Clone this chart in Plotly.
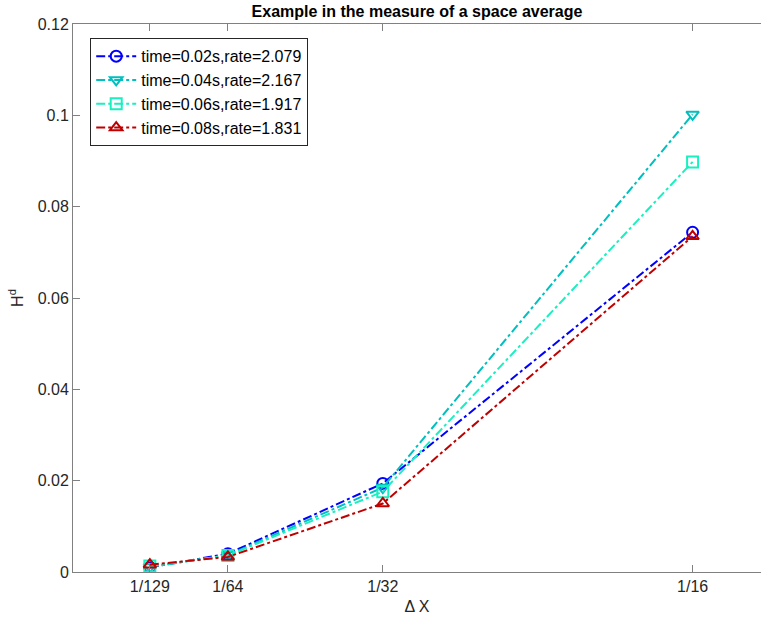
import plotly.graph_objects as go

x_vals = [1/129, 1/64, 1/32, 1/16]
x_labels = ["1/129", "1/64", "1/32", "1/16"]

series_names = ["time=0.02s,rate=2.079", "time=0.04s,rate=2.167",
                "time=0.06s,rate=1.917", "time=0.08s,rate=1.831"]
s1 = [0.0010, 0.0040, 0.0194, 0.0744]
s2 = [0.0011, 0.0037, 0.0185, 0.1002]
s3 = [0.0013, 0.0036, 0.0176, 0.0898]
s4 = [0.0016, 0.0033, 0.0150, 0.0735]
series = [s1, s2, s3, s4]
colors = ["#0000ff", "#00bfbf", "#19f0c0", "#bf0000"]
symbols = ["circle-open", "triangle-down-open", "square-open", "triangle-up-open"]

y_ticks = [0, 0.02, 0.04, 0.06, 0.08, 0.1, 0.12]
y_labels = ["0", "0.02", "0.04", "0.06", "0.08", "0.1", "0.12"]

fig = go.Figure()
for name, ys, c, s in zip(series_names, series, colors, symbols):
    fig.add_trace(go.Scatter(
        x=x_vals, y=ys, name=name, mode="lines+markers",
        line=dict(color=c, width=2, dash="dashdot"),
        marker=dict(symbol=s, size=11, color=c, line=dict(color=c, width=2)),
    ))

axis_col = "#808080"
fig.update_layout(
    width=761, height=622,
    margin=dict(l=73, r=0, t=24, b=50),
    paper_bgcolor="white", plot_bgcolor="white",
    font=dict(family="Liberation Sans, Arial, sans-serif", size=15, color="#262626"),
    title=dict(text="<b>Example in the measure of a space average</b>",
               x=0.5, xanchor="center", xref="paper", y=0.982, yanchor="middle",
               font=dict(size=16, color="#000000")),
    showlegend=True,
    legend=dict(x=0.025, y=0.974, xanchor="left", yanchor="top",
                bgcolor="white", bordercolor="#262626", borderwidth=1,
                font=dict(size=16, color="#000000"), tracegroupgap=0,
                itemwidth=40),
    xaxis=dict(range=[0, 0.0694], tickvals=x_vals, ticktext=x_labels,
               showgrid=False, zeroline=False, showline=True, linecolor=axis_col,
               linewidth=1, ticks="inside", ticklen=7, tickcolor=axis_col,
               mirror="ticks", automargin=False,
               tickfont=dict(size=16),
               title=dict(text="Δ X", standoff=6, font=dict(size=16))),
    yaxis=dict(range=[0, 0.12], tickvals=y_ticks, ticktext=y_labels,
               showgrid=False, zeroline=False, showline=True, linecolor=axis_col,
               linewidth=1, ticks="inside", ticklen=7, tickcolor=axis_col,
               automargin=False, tickfont=dict(size=16),
               title=dict(text="H<sup>d</sup>", standoff=10, font=dict(size=16))),
)

fig.write_html("out.html", config={"displayModeBar": False},
               post_script="document.body.style.margin='0';")
